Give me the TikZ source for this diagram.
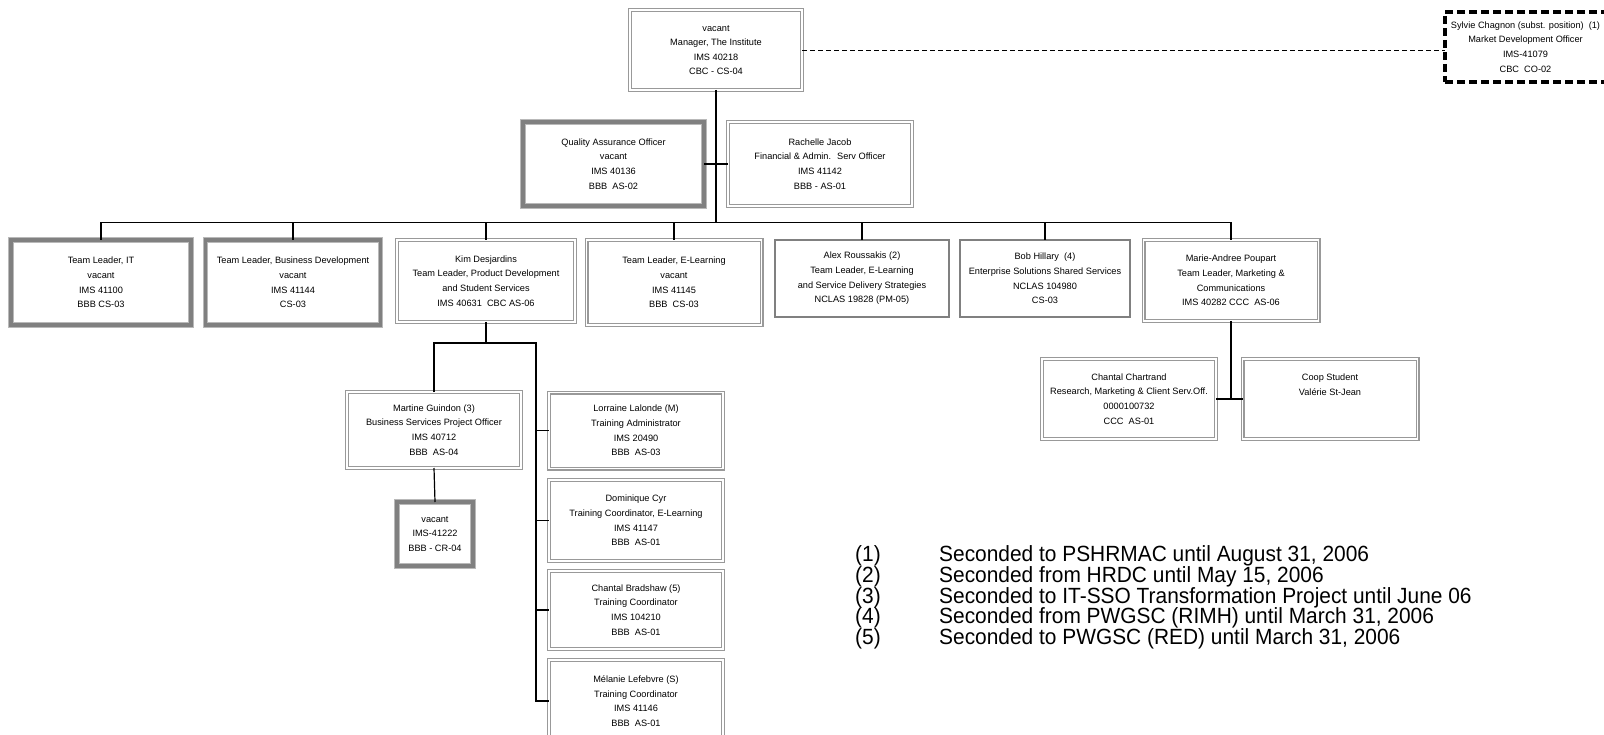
\documentclass[tikz,border=0pt]{standalone}
\usepackage{fontspec}
\setmainfont{Liberation Sans}
\newfontfamily\notefamily[FakeStretch=0.95]{Liberation Sans}
\newcommand\boxfont{\fontsize{9.2}{14.6}\selectfont}
\newcommand\notefont{\notefamily\fontsize{22}{21}\selectfont}
\begin{document}
\begin{tikzpicture}[x=1pt,y=-1pt,
  box/.style={rectangle, inner sep=0pt, outer sep=0pt, align=center, font=\boxfont, text=black},
  regbox/.style={box, draw=gray!80, line width=1.1pt, double=white, double distance=1.8pt},
  sglbox/.style={box, draw=gray, line width=1.2pt},
  vacbox/.style={box, draw=gray!55, line width=1pt, double=gray, double distance=3.8pt},
  dashbox/.style={box, draw=black, line width=3.5pt, dash pattern=on 8pt off 4pt},
  conn/.style={draw=black, line width=1.2pt},
  dconn/.style={draw=black, line width=0.9pt, dash pattern=on 5pt off 3pt},
  note/.style={anchor=base west, inner sep=0pt, font=\notefont}
]
\fill[white] (0,0) rectangle (1604,735);
\useasboundingbox (0,0) rectangle (1604,735);
\clip (0,0) rectangle (1604,735);

% top
\node[regbox, minimum width=172pt, minimum height=80pt] (mgr) at (716,50)
  {vacant\\Manager, The Institute\\IMS 40218\\CBC - CS-04};
\node[dashbox, minimum width=161pt, minimum height=70pt] (syl) at (1525.5,47)
  {Sylvie Chagnon (subst. position)~ (1)\\Market Development Officer\\IMS-41079\\CBC~ CO-02};
\draw[dconn] (mgr.east) -- (mgr.east -| syl.west);

\node[vacbox, minimum width=181pt, minimum height=84pt] (qa) at (613.5,164)
  {Quality Assurance Officer\\vacant\\IMS 40136\\BBB~ AS-02};
\node[regbox, minimum width=184pt, minimum height=84pt] (rach) at (820,164)
  {Rachelle Jacob\\Financial \& Admin.~ Serv Officer\\IMS 41142\\BBB - AS-01};

% second row
\node[vacbox, minimum width=180pt, minimum height=85pt] (it) at (101,282.5)
  {Team Leader, IT\\vacant\\IMS 41100\\BBB CS-03};
\node[vacbox, minimum width=175pt, minimum height=85pt] (bd) at (293,282.5)
  {Team Leader, Business Development\\vacant\\IMS 41144\\CS-03};
\node[regbox, minimum width=178pt, minimum height=82pt] (kim) at (486,281)
  {Kim Desjardins\\Team Leader, Product Development\\and Student Services\\IMS 40631~ CBC AS-06};
\node[regbox, minimum width=175pt, minimum height=85pt] (el) at (674,282.5)
  {Team Leader, E-Learning\\vacant\\IMS 41145\\BBB~ CS-03};
\node[sglbox, minimum width=174pt, minimum height=77pt] (alex) at (862,278.5)
  {Alex Roussakis (2)\\Team Leader, E-Learning\\and Service Delivery Strategies\\NCLAS 19828 (PM-05)};
\node[sglbox, minimum width=170pt, minimum height=77pt] (bob) at (1045,278.5)
  {Bob Hillary~ (4)\\Enterprise Solutions Shared Services\\NCLAS 104980\\CS-03};
\node[regbox, minimum width=175pt, minimum height=81pt] (marie) at (1231,280.5)
  {Marie-Andree Poupart\\Team Leader, Marketing \&\\Communications\\IMS 40282 CCC~ AS-06};

% connectors top
\coordinate (bus) at (716,222.5);
\draw[conn] (mgr.south) -- (bus);
\draw[conn] (qa.east) -- (rach.west);
\draw[conn] (it.north) |- (bus) -| (marie.north);
\foreach \n in {bd,kim,el,alex,bob} \draw[conn] (\n.north) -- (\n.north |- bus);

% Kim subtree
\node[regbox, minimum width=174pt, minimum height=76pt] (mart) at (434,430)
  {Martine Guindon (3)\\Business Services Project Officer\\IMS 40712\\BBB~ AS-04};
\node[vacbox, minimum width=76pt, minimum height=64pt] (vac) at (435,534)
  {vacant\\IMS-41222\\BBB - CR-04};
\node[regbox, minimum width=174pt, minimum height=76pt] (lor) at (636,430.5)
  {Lorraine Lalonde (M)\\Training Administrator\\IMS 20490\\BBB~ AS-03};
\node[regbox, minimum width=174pt, minimum height=81pt] (dom) at (636,520.5)
  {Dominique Cyr\\Training Coordinator, E-Learning\\IMS 41147\\BBB~ AS-01};
\node[regbox, minimum width=174pt, minimum height=78pt] (cbr) at (636,610)
  {Chantal Bradshaw (5)\\Training Coordinator\\IMS 104210\\BBB~ AS-01};
\node[regbox, minimum width=174pt, minimum height=82pt] (mel) at (636,701)
  {Mélanie Lefebvre (S)\\Training Coordinator\\IMS 41146\\BBB~ AS-01};

\coordinate (kl) at (435,343);
\coordinate (kr) at (536,343);
\draw[conn] (kim.south) -- (kim.south |- kl);
\draw[conn] (mart.north) |- (kr) |- (mel.west);
\draw[conn] (mart.south) -- (vac.north);
\draw[conn] (kr |- lor.west) -- (lor.west);
\draw[conn] (kr |- dom.west) -- (dom.west);
\draw[conn] (kr |- cbr.west) -- (cbr.west);

% Marie subtree
\node[regbox, minimum width=174pt, minimum height=80pt] (cch) at (1129,399)
  {Chantal Chartrand\\Research, Marketing \& Client Serv.Off.\\0000100732\\CCC~ AS-01};
\node[regbox, minimum width=175pt, minimum height=80pt] (coop) at (1330,399)
  {Coop Student\\Valérie St-Jean\\\mbox{}\\\mbox{}};
\draw[conn] (marie.south) -- (marie.south |- cch.east);
\draw[conn] (cch.east) -- (coop.west);

% notes
\node[note] (n1l) at (855,561) {(1)};
\node[note] (n1) at (939,561) {Seconded to PSHRMAC until August 31, 2006};
\node[note] (n2l) at (855,582) {(2)};
\node[note] (n2) at (939,582) {Seconded from HRDC until May 15, 2006};
\node[note] (n3l) at (855,603) {(3)};
\node[note] (n3) at (939,603) {Seconded to IT-SSO Transformation Project until June 06};
\node[note] (n4l) at (855,623) {(4)};
\node[note] (n4) at (939,623) {Seconded from PWGSC (RIMH) until March 31, 2006};
\node[note] (n5l) at (855,644) {(5)};
\node[note] (n5) at (939,644) {Seconded to PWGSC (RED) until March 31, 2006};
\end{tikzpicture}
\end{document}
